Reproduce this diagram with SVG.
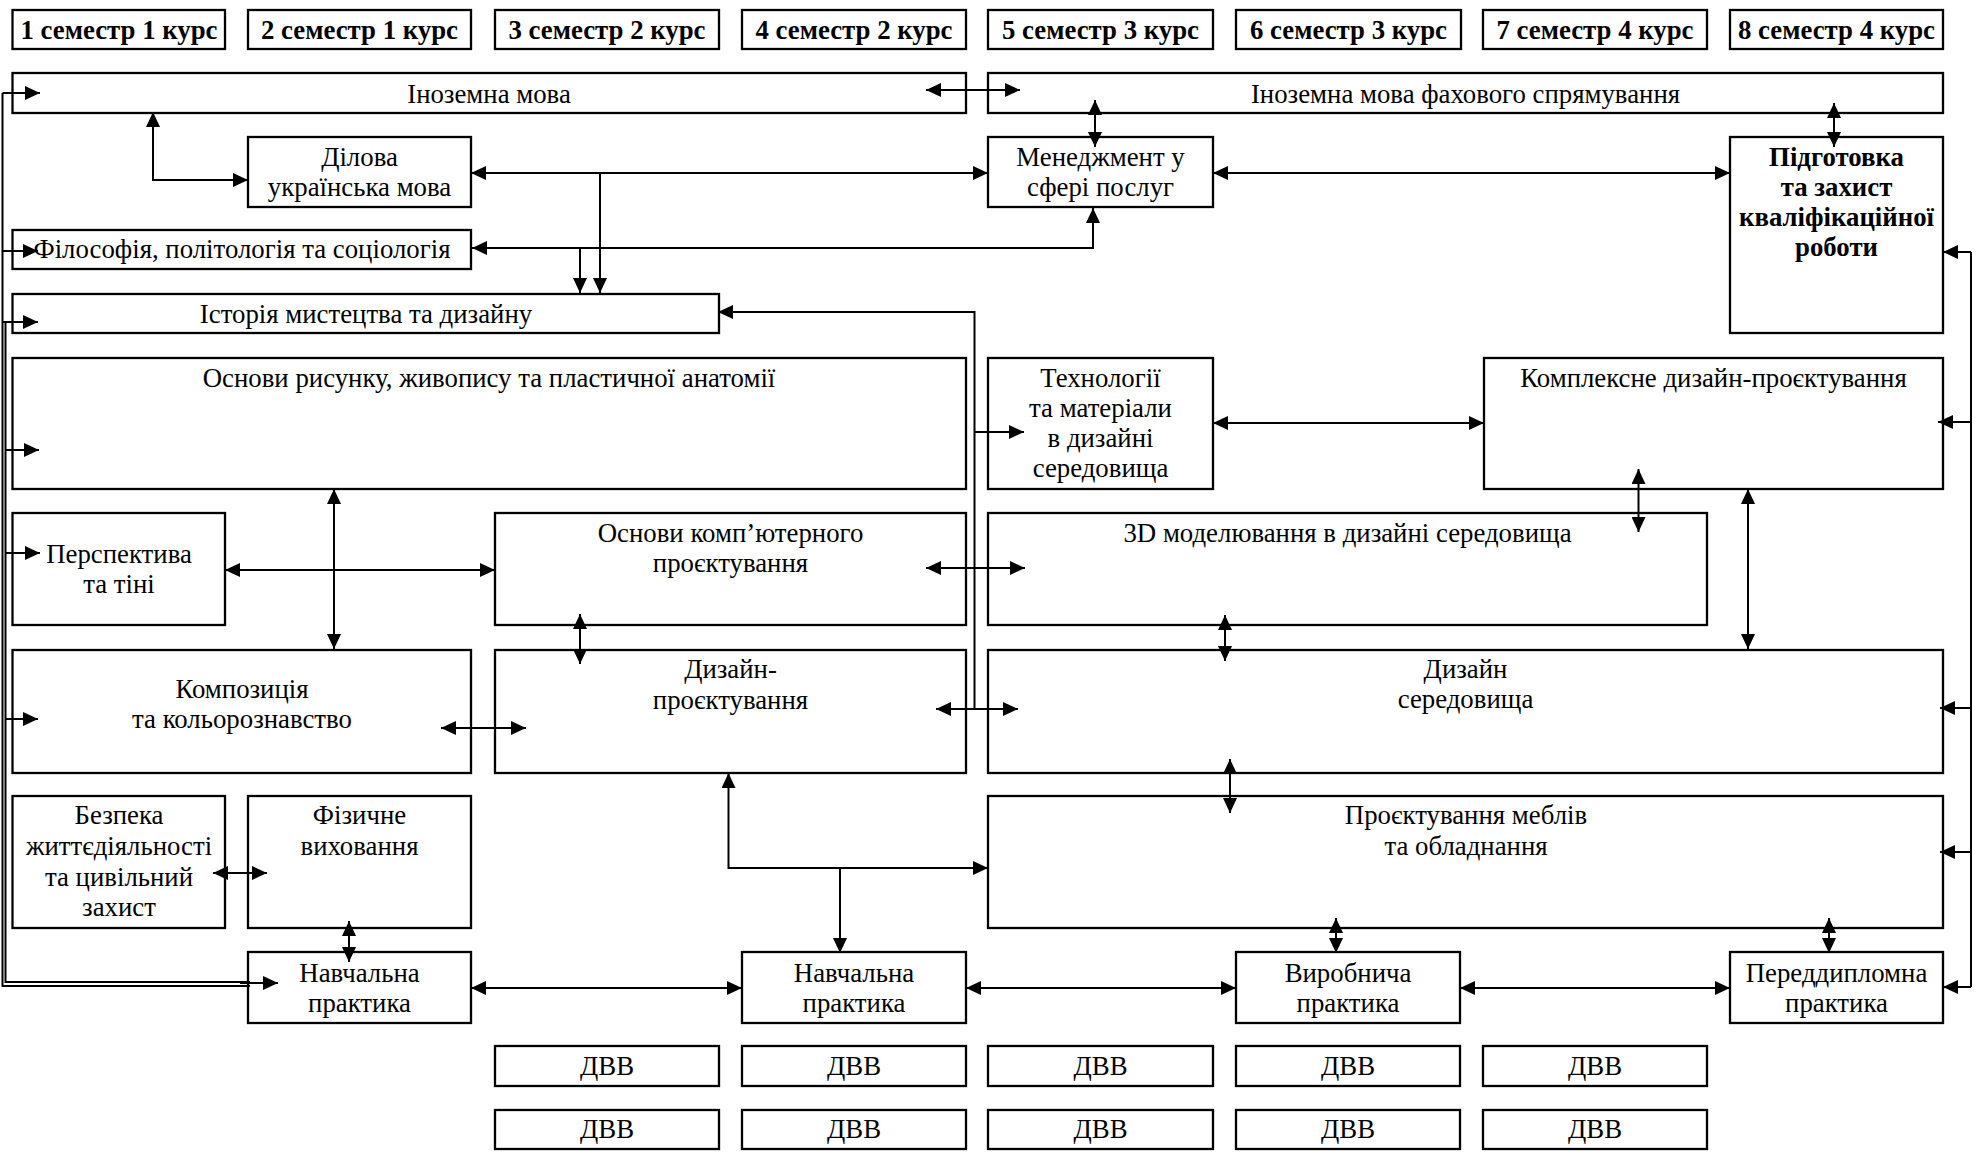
<svg xmlns="http://www.w3.org/2000/svg" width="1977" height="1152" viewBox="0 0 1977 1152">
<style>
.b{fill:#fff;stroke:#000;stroke-width:2.3}
text{font-family:"Liberation Serif","Times New Roman",serif;font-size:26.8px;fill:#000;text-anchor:middle}
.h text{font-weight:bold}
.bold{font-weight:bold}
.c path,.c line{fill:none;stroke:#000;stroke-width:2}
.d{marker-start:url(#ah);marker-end:url(#ah)}
.e{marker-end:url(#ah)}
.s{marker-start:url(#ah)}
</style>
<defs>
<marker id="ah" viewBox="0 0 15 14" refX="15" refY="7" markerWidth="15" markerHeight="14" markerUnits="userSpaceOnUse" orient="auto-start-reverse"><path d="M0,0 L15,7 L0,14 z" fill="#000"/></marker>
</defs>
<rect width="1977" height="1152" fill="#fff"/>

<g class="h">
<g id="sem1"><rect class="b" x="12.5" y="10" width="212.5" height="39"/><text x="119" y="39">1 семестр 1 курс</text></g>
<g id="sem2"><rect class="b" x="248" y="10" width="223" height="39"/><text x="359.5" y="39">2 семестр 1 курс</text></g>
<g id="sem3"><rect class="b" x="495" y="10" width="224" height="39"/><text x="607" y="39">3 семестр 2 курс</text></g>
<g id="sem4"><rect class="b" x="742" y="10" width="224" height="39"/><text x="854" y="39">4 семестр 2 курс</text></g>
<g id="sem5"><rect class="b" x="988" y="10" width="225" height="39"/><text x="1100.5" y="39">5 семестр 3 курс</text></g>
<g id="sem6"><rect class="b" x="1236" y="10" width="225" height="39"/><text x="1348.5" y="39">6 семестр 3 курс</text></g>
<g id="sem7"><rect class="b" x="1483" y="10" width="224" height="39"/><text x="1595" y="39">7 семестр 4 курс</text></g>
<g id="sem8"><rect class="b" x="1730" y="10" width="213" height="39"/><text x="1836.5" y="39">8 семестр 4 курс</text></g>
</g>

<g id="inozemna"><rect class="b" x="12.5" y="73" width="953.5" height="40"/><text x="489" y="103">Іноземна мова</text></g>
<g id="inozemna-fah"><rect class="b" x="988" y="73" width="955" height="40"/><text x="1465.5" y="103">Іноземна мова фахового спрямування</text></g>
<g id="dilova"><rect class="b" x="248" y="137" width="223" height="70"/><text x="359.5" y="166">Ділова</text><text x="359.5" y="196">українська мова</text></g>
<g id="menedzhment"><rect class="b" x="988" y="137" width="225" height="70"/><text x="1100.5" y="166">Менеджмент у</text><text x="1100.5" y="196">сфері послуг</text></g>
<g id="pidgotovka"><rect class="b" x="1730" y="137" width="213" height="196"/><text class="bold" x="1836.5" y="166">Підготовка</text><text class="bold" x="1836.5" y="196">та захист</text><text class="bold" x="1836.5" y="226">кваліфікаційної</text><text class="bold" x="1836.5" y="256">роботи</text></g>
<g id="filosofiya"><rect class="b" x="12.5" y="230" width="458.5" height="39"/><text x="242" y="258">Філософія, політологія та соціологія</text></g>
<g id="istoriya"><rect class="b" x="12.5" y="294" width="706.5" height="39"/><text x="366" y="323">Історія мистецтва та дизайну</text></g>
<g id="osnovy-rysunku"><rect class="b" x="12.5" y="358" width="953.5" height="131"/><text x="489" y="387">Основи рисунку, живопису та пластичної анатомії</text></g>
<g id="tekhnologii"><rect class="b" x="988" y="358" width="225" height="131"/><text x="1100.5" y="387">Технології</text><text x="1100.5" y="417">та матеріали</text><text x="1100.5" y="447">в дизайні</text><text x="1100.5" y="477">середовища</text></g>
<g id="kompleksne"><rect class="b" x="1484" y="358" width="459" height="131"/><text x="1713.5" y="387">Комплексне дизайн-проєктування</text></g>
<g id="perspektyva"><rect class="b" x="12.5" y="513" width="212.5" height="112"/><text x="119" y="563">Перспектива</text><text x="119" y="593">та тіні</text></g>
<g id="osnovy-komp"><rect class="b" x="495" y="513" width="471" height="112"/><text x="730.5" y="542">Основи комп’ютерного</text><text x="730.5" y="572">проєктування</text></g>
<g id="modeling3d"><rect class="b" x="988" y="513" width="719" height="112"/><text x="1347.5" y="542">3D моделювання в дизайні середовища</text></g>
<g id="kompozytsiya"><rect class="b" x="12.5" y="650" width="458.5" height="123"/><text x="242" y="698">Композиція</text><text x="242" y="728">та кольорознавство</text></g>
<g id="dyzain-proekt"><rect class="b" x="495" y="650" width="471" height="123"/><text x="730.5" y="678">Дизайн-</text><text x="730.5" y="709">проєктування</text></g>
<g id="dyzain-sered"><rect class="b" x="988" y="650" width="955" height="123"/><text x="1465.5" y="678">Дизайн</text><text x="1465.5" y="708">середовища</text></g>
<g id="bezpeka"><rect class="b" x="12.5" y="796" width="212.5" height="132"/><text x="119" y="824">Безпека</text><text x="119" y="855">життєдіяльності</text><text x="119" y="886">та цивільний</text><text x="119" y="916">захист</text></g>
<g id="fizychne"><rect class="b" x="248" y="796" width="223" height="132"/><text x="359.5" y="824">Фізичне</text><text x="359.5" y="855">виховання</text></g>
<g id="mebli"><rect class="b" x="988" y="796" width="955" height="132"/><text x="1466" y="824">Проєктування меблів</text><text x="1466" y="855">та обладнання</text></g>
<g id="navch1"><rect class="b" x="248" y="952" width="223" height="71"/><text x="359.5" y="982">Навчальна</text><text x="359.5" y="1012">практика</text></g>
<g id="navch2"><rect class="b" x="742" y="952" width="224" height="71"/><text x="854" y="982">Навчальна</text><text x="854" y="1012">практика</text></g>
<g id="vyrobnycha"><rect class="b" x="1236" y="952" width="224" height="71"/><text x="1348" y="982">Виробнича</text><text x="1348" y="1012">практика</text></g>
<g id="pereddyplomna"><rect class="b" x="1730" y="952" width="213" height="71"/><text x="1836.5" y="982">Переддипломна</text><text x="1836.5" y="1012">практика</text></g>

<g id="dvv-1-1"><rect class="b" x="495" y="1046" width="224" height="40"/><text x="607" y="1075">ДВВ</text></g>
<g id="dvv-1-2"><rect class="b" x="742" y="1046" width="224" height="40"/><text x="854" y="1075">ДВВ</text></g>
<g id="dvv-1-3"><rect class="b" x="988" y="1046" width="225" height="40"/><text x="1100.5" y="1075">ДВВ</text></g>
<g id="dvv-1-4"><rect class="b" x="1236" y="1046" width="224" height="40"/><text x="1348" y="1075">ДВВ</text></g>
<g id="dvv-1-5"><rect class="b" x="1483" y="1046" width="224" height="40"/><text x="1595" y="1075">ДВВ</text></g>
<g id="dvv-2-1"><rect class="b" x="495" y="1110" width="224" height="39"/><text x="607" y="1138">ДВВ</text></g>
<g id="dvv-2-2"><rect class="b" x="742" y="1110" width="224" height="39"/><text x="854" y="1138">ДВВ</text></g>
<g id="dvv-2-3"><rect class="b" x="988" y="1110" width="225" height="39"/><text x="1100.5" y="1138">ДВВ</text></g>
<g id="dvv-2-4"><rect class="b" x="1236" y="1110" width="224" height="39"/><text x="1348" y="1138">ДВВ</text></g>
<g id="dvv-2-5"><rect class="b" x="1483" y="1110" width="224" height="39"/><text x="1595" y="1138">ДВВ</text></g>

<g class="c" id="connectors">
<!-- left bus -->
<path d="M2.5,93 V986 H250"/>
<path d="M5.5,322 V982 H250"/>
<path class="e" d="M2.5,93 H40"/>
<path class="e" d="M2.5,251 H38"/>
<path class="e" d="M2.5,322 H38"/>
<path class="e" d="M5.5,450 H39"/>
<path class="e" d="M5.5,553 H40"/>
<path class="e" d="M5.5,719 H38"/>
<path class="e" d="M240,983 H278"/>
<!-- right bus -->
<path d="M1971,252 V987"/>
<path class="e" d="M1971,252 H1943"/>
<path class="e" d="M1971,422 H1938"/>
<path class="e" d="M1971,708 H1940"/>
<path class="e" d="M1971,852 H1940"/>
<path class="e" d="M1971,987 H1943"/>
<!-- top -->
<path class="d" d="M926,90 H1020"/>
<path class="d" d="M1095,100 V147"/>
<path class="d" d="M1834,103 V147"/>
<path class="d" d="M153,112 V180 H248"/>
<path class="d" d="M471,173 H988"/>
<path class="d" d="M1213,173 H1730"/>
<path class="d" d="M472,248 H1093 V208"/>
<path class="e" d="M600,173 V293"/>
<path class="e" d="M580,248 V293"/>
<!-- middle -->
<path class="s" d="M718,312 H974.5 V710"/>
<path class="e" d="M974.5,432 H1024"/>
<path class="d" d="M926,568 H1025"/>
<path class="d" d="M936,709 H1018"/>
<path class="d" d="M1213,423 H1484"/>
<path class="d" d="M1638.5,469 V532"/>
<path class="d" d="M1748,489 V649"/>
<path class="d" d="M334,489 V649"/>
<path class="d" d="M225,570 H495"/>
<path class="d" d="M580,614 V664"/>
<path class="d" d="M441,728 H526"/>
<path class="d" d="M1225,615 V661"/>
<path class="d" d="M1230,759 V813"/>
<path class="d" d="M728.5,773 V868 H988"/>
<path class="e" d="M840,868 V953"/>
<!-- bottom -->
<path class="d" d="M213,873 H267"/>
<path class="d" d="M349,921 V962"/>
<path class="d" d="M471,988 H742"/>
<path class="d" d="M966,988 H1236"/>
<path class="d" d="M1460,988 H1730"/>
<path class="d" d="M1336,918 V953"/>
<path class="d" d="M1829,918 V953"/>
</g>
</svg>
